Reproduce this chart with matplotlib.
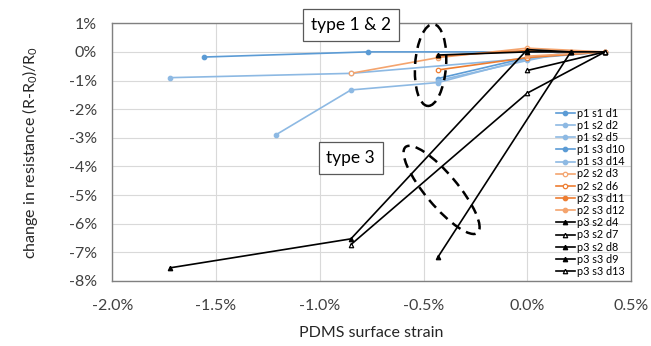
import matplotlib
matplotlib.use('Agg')
import matplotlib.pyplot as plt
from matplotlib.patches import Ellipse
from matplotlib.transforms import ScaledTranslation
from matplotlib.ticker import FuncFormatter, MultipleLocator

plt.rcParams['font.family'] = ['Lato', 'DejaVu Sans']
plt.rcParams['mathtext.fontset'] = 'custom'
plt.rcParams['mathtext.rm'] = 'Lato'
plt.rcParams['mathtext.it'] = 'Lato:italic'

# strain (%) and change in resistance (%) per device
p1_s1_d1_x = [-1.56, -0.77, 0.375]
p1_s1_d1_y = [-0.18, 0.0, 0.0]
p1_s2_d2_x = [-1.72, -0.85, 0.375]
p1_s2_d2_y = [-0.90, -0.75, 0.0]
p1_s2_d5_x = [-1.21, -0.85, -0.43, 0.0, 0.21]
p1_s2_d5_y = [-2.89, -1.33, -1.07, -0.25, 0.0]
p1_s3_d10_x = [-0.43, 0.0, 0.375]
p1_s3_d10_y = [-0.93, -0.20, 0.0]
p1_s3_d14_x = [-0.43, 0.0, 0.21]
p1_s3_d14_y = [-1.00, -0.30, 0.0]

p2_s2_d3_x = [-0.85, -0.43, 0.0, 0.375]
p2_s2_d3_y = [-0.75, -0.20, 0.13, 0.0]
p2_s2_d6_x = [-0.43, 0.0, 0.375]
p2_s2_d6_y = [-0.63, -0.20, 0.0]
p2_s3_d11_x = [-0.43, 0.0, 0.21]
p2_s3_d11_y = [-0.15, 0.05, 0.0]
p2_s3_d12_x = [0.0, 0.375]
p2_s3_d12_y = [-0.15, 0.0]

p3_s2_d4_x = [-1.72, -0.85, 0.0, 0.21]
p3_s2_d4_y = [-7.54, -6.53, 0.08, 0.0]
p3_s2_d7_x = [-0.85, 0.0, 0.375]
p3_s2_d7_y = [-6.73, -1.44, 0.0]
p3_s2_d8_x = [-0.43, 0.21]
p3_s2_d8_y = [-7.16, 0.0]
p3_s3_d9_x = [-0.43, 0.0, 0.375]
p3_s3_d9_y = [-0.11, 0.0, 0.0]
p3_s3_d13_x = [0.0, 0.375]
p3_s3_d13_y = [-0.65, 0.0]

blue = '#5B9BD5'
blue_lt = '#8DB9E3'
orange = '#ED7D31'
orange_lt = '#F4A46E'

# label, x, y, color, marker, filled
series = [
    ('p1 s1 d1', p1_s1_d1_x, p1_s1_d1_y, blue, 'o', True),
    ('p1 s2 d2', p1_s2_d2_x, p1_s2_d2_y, blue_lt, 'o', True),
    ('p1 s2 d5', p1_s2_d5_x, p1_s2_d5_y, blue_lt, 'o', True),
    ('p1 s3 d10', p1_s3_d10_x, p1_s3_d10_y, blue, 'o', True),
    ('p1 s3 d14', p1_s3_d14_x, p1_s3_d14_y, blue_lt, 'o', True),
    ('p2 s2 d3', p2_s2_d3_x, p2_s2_d3_y, orange_lt, 'o', False),
    ('p2 s2 d6', p2_s2_d6_x, p2_s2_d6_y, orange, 'o', False),
    ('p2 s3 d11', p2_s3_d11_x, p2_s3_d11_y, orange, 'o', True),
    ('p2 s3 d12', p2_s3_d12_x, p2_s3_d12_y, orange_lt, 'o', True),
    ('p3 s2 d4', p3_s2_d4_x, p3_s2_d4_y, 'black', '^', True),
    ('p3 s2 d7', p3_s2_d7_x, p3_s2_d7_y, 'black', '^', False),
    ('p3 s2 d8', p3_s2_d8_x, p3_s2_d8_y, 'black', '^', True),
    ('p3 s3 d9', p3_s3_d9_x, p3_s3_d9_y, 'black', '^', True),
    ('p3 s3 d13', p3_s3_d13_x, p3_s3_d13_y, 'black', '^', False),
]

fig = plt.figure(figsize=(6.51, 3.46), dpi=100)
ax = fig.add_axes([0.1725, 0.188, 0.7968, 0.7448])

for label, x, y, c, m, filled in series:
    ax.plot(x, y, color=c, lw=1.2, marker=m, markersize=3.2,
            markerfacecolor=c if filled else 'white', markeredgecolor=c,
            markeredgewidth=0.9, label=label)

ax.set_xlim(-2.0, 0.5)
ax.set_ylim(-8, 1)
ax.xaxis.set_major_locator(MultipleLocator(0.5))
ax.yaxis.set_major_locator(MultipleLocator(1))
ax.xaxis.set_major_formatter(FuncFormatter(lambda v, p: '{:.1f}%'.format(v).replace('-0.0', '0.0')))
ax.yaxis.set_major_formatter(FuncFormatter(lambda v, p: '{:.0f}%'.format(v).replace('-0%', '0%')))
ax.grid(True, color='#D9D9D9', lw=0.8)
ax.set_axisbelow(True)
ax.tick_params(length=0, labelsize=11.5, colors='#404040')
ax.tick_params(axis='x', pad=13)
ax.tick_params(axis='y', pad=11)
for s in ax.spines.values():
    s.set_color('#808080')
    s.set_linewidth(1.0)

ax.set_xlabel('PDMS surface strain', fontsize=11.5, color='#262626', labelpad=9)
ax.set_ylabel('change in resistance (R-R$_0$)/R$_0$', fontsize=11.5, color='#262626', labelpad=21)

leg = ax.legend(loc='lower right', bbox_to_anchor=(1.0, -0.01), frameon=False, fontsize=7.8,
                handlelength=1.8, handletextpad=0.15, labelspacing=0.11, borderaxespad=0.2)

# annotation boxes
box = dict(boxstyle='square,pad=0.45', facecolor='white', edgecolor='#595959', lw=0.9)
ax.text(-0.851, 0.94, 'type 1 & 2', ha='center', va='center', fontsize=12.5, color='black',
        bbox=box, clip_on=False, zorder=5)
ax.text(-0.851, -3.70, 'type 3', ha='center', va='center', fontsize=12.5, color='black',
        bbox=box, zorder=5)

# dashed ellipses (size in inches, centre in data units)
for cx, cy, w, h, ang in [(-0.466, -0.46, 0.31, 0.82, -4), (-0.413, -4.82, 1.12, 0.32, -50)]:
    e = Ellipse((0, 0), w, h, angle=ang, fill=False, edgecolor='black', lw=1.8,
                linestyle=(0, (4, 2.5)),
                transform=fig.dpi_scale_trans + ScaledTranslation(cx, cy, ax.transData),
                clip_on=False, zorder=6)
    ax.add_patch(e)

fig.savefig('out.png', dpi=100)
